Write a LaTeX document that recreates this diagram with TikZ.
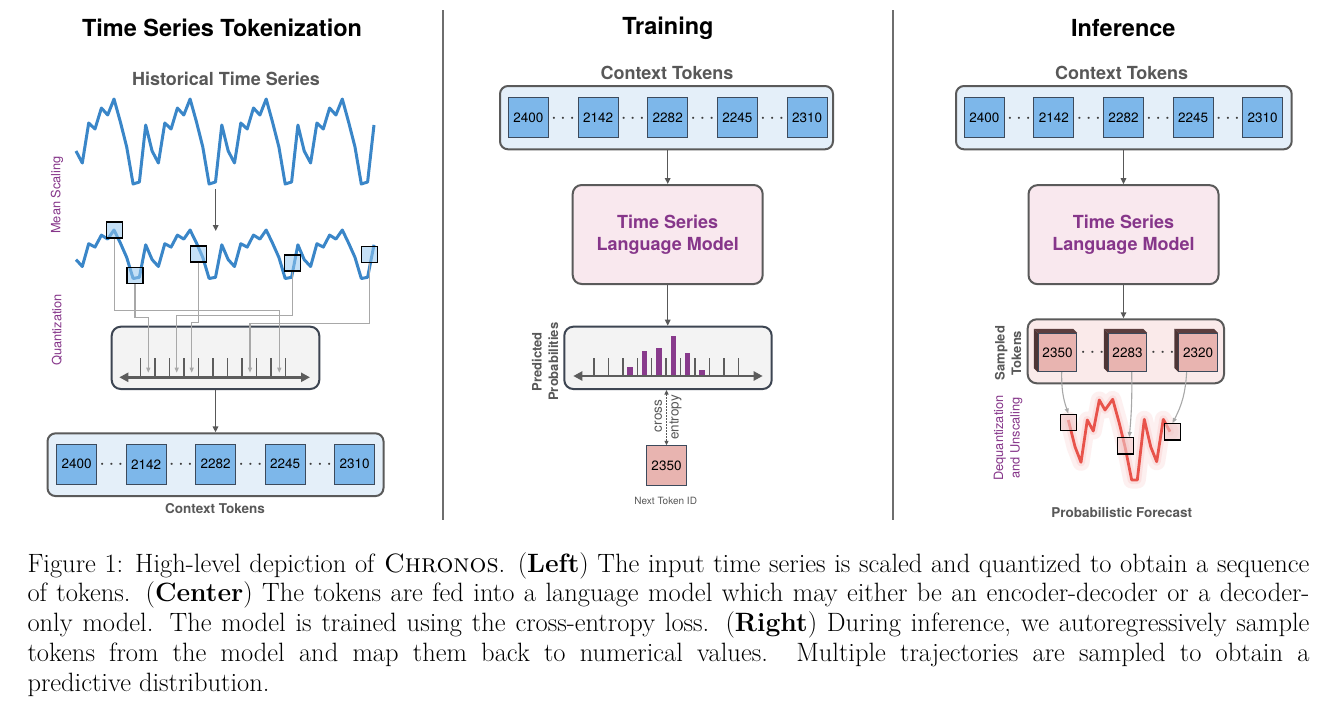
\documentclass[tikz,border=0pt]{standalone}
\usepackage{fontspec}
\newfontfamily\hv{TeX Gyre Heros}
\usetikzlibrary{arrows.meta,calc}
\definecolor{tsblue}{RGB}{58,134,200}
\definecolor{txtgray}{RGB}{88,88,88}
\definecolor{purp}{RGB}{134,54,138}
\definecolor{boxgray}{RGB}{90,90,90}
\definecolor{ctxfill}{RGB}{228,239,249}
\definecolor{tokblue}{RGB}{125,183,234}
\definecolor{tokborder}{RGB}{60,74,92}
\definecolor{tokpink}{RGB}{232,180,176}
\definecolor{lmfill}{RGB}{249,232,238}
\definecolor{sfill}{RGB}{250,234,234}
\definecolor{qfill}{RGB}{243,243,243}
\definecolor{qborder}{RGB}{61,69,82}
\definecolor{arrgray}{RGB}{88,88,88}
\definecolor{qgray}{RGB}{168,168,168}
\definecolor{axgray}{RGB}{92,92,92}
\definecolor{sqblue}{RGB}{150,200,240}
\definecolor{sqpink}{RGB}{240,200,200}
\definecolor{barpurp}{RGB}{136,58,140}
\definecolor{fred}{RGB}{232,83,75}
\definecolor{fband}{RGB}{248,190,188}
\definecolor{cubeside}{RGB}{92,62,62}
\definecolor{sepgray}{RGB}{110,110,110}
\definecolor{dotgray}{RGB}{60,60,60}
\begin{document}
\begin{tikzpicture}[x=1pt,y=-1pt,
  title/.style={font=\hv\bfseries\fontsize{23.5}{26}\selectfont, text=black, inner sep=0pt},
  subttl/.style={font=\hv\bfseries\fontsize{18}{21}\selectfont, text=txtgray, inner sep=0pt},
  lbl/.style={font=\hv\bfseries\fontsize{13.5}{16}\selectfont, text=txtgray, inner sep=0pt},
  side/.style={font=\hv\fontsize{12.8}{16}\selectfont, text=purp, rotate=90, align=center, inner sep=0pt},
  sidebold/.style={font=\hv\bfseries\fontsize{13}{16.5}\selectfont, text=txtgray, rotate=90, align=center, inner sep=0pt},
  ctxbox/.style={draw=boxgray, line width=2pt, fill=ctxfill, rounded corners=8pt, inner sep=0pt},
  tok/.style={draw=tokborder, line width=1pt, fill=tokblue, minimum size=40pt, inner sep=0pt, font=\hv\fontsize{13.5}{16}\selectfont},
  ptok/.style={tok, fill=tokpink},
  lmbox/.style={draw=boxgray, line width=2pt, fill=lmfill, rounded corners=9pt, minimum width=190pt, minimum height=99pt, inner sep=0pt, font=\hv\bfseries\fontsize{18}{22}\selectfont, text=purp, align=center},
  conn/.style={draw=arrgray, line width=1.4pt, -{Triangle[length=6pt,width=5.5pt]}},
  qarr/.style={draw=qgray, line width=1.1pt, -{Triangle[length=5pt,width=4pt]}},
  axisln/.style={draw=axgray, line width=2.6pt, {Triangle[length=9pt,width=9pt]}-{Triangle[length=9pt,width=9pt]}},
  tickln/.style={draw=axgray, line width=1.5pt},
  series/.style={draw=tsblue, line width=3pt, line join=round},
  sqb/.style={draw=black, line width=1.2pt, fill=sqblue, fill opacity=0.55, minimum size=16pt, inner sep=0pt},
  sqp/.style={draw=black, line width=1.2pt, fill=sqpink, fill opacity=0.6, minimum size=16.4pt, inner sep=0pt},
  dotsn/.style={font=\fontsize{21}{24}\selectfont, text=dotgray, inner sep=0pt},
  sep/.style={draw=sepgray, line width=1.3pt}
]
\useasboundingbox (0,0) rectangle (1334,718);
\fill[white] (0,0) rectangle (1334,718);

% separators
\coordinate (sepA1) at (443,10); \coordinate (sepA2) at (443,520);
\coordinate (sepB1) at (893,10); \coordinate (sepB2) at (893,520);
\draw[sep] (sepA1) -- (sepA2);
\draw[sep] (sepB1) -- (sepB2);

% ================= LEFT PANEL =================
\node[title] (ttl1) at (222,28) {Time Series Tokenization};
\node[subttl] (hist) at (226,79) {Historical Time Series};

\draw[series] plot coordinates {
(76,151)(82.3,163)(88.7,123)(95,129)(101.4,108)(107.7,115)(114,99)(120.4,122)(126.7,147)(133.1,184)(139.4,182)(145.7,125)
(152.1,151)(158.4,163)(164.8,123)(171.1,129)(177.4,108)(183.8,115)(190.1,99)(196.5,122)(202.8,147)(209.1,184)(215.5,182)(221.8,125)
(228.2,151)(234.5,163)(240.8,123)(247.2,129)(253.5,108)(259.9,115)(266.2,99)(272.5,122)(278.9,147)(285.2,184)(291.6,182)(297.9,125)
(304.2,151)(310.6,163)(316.9,123)(323.3,129)(329.6,108)(335.9,115)(342.3,99)(348.6,122)(355,147)(361.3,184)(367.6,182)(374,125)};

\coordinate (ms1) at (215.7,189);
\coordinate (ms2) at (215.7,231);
\draw[conn] (ms1) -- (ms2);

\draw[series] plot coordinates {
(76,259.6)(82.3,266.5)(88.7,243.7)(95,247.1)(101.4,235.1)(107.7,239.1)(114,230)(120.4,243.1)(126.7,257.4)(133.1,278.5)(139.4,277.3)(145.7,244.8)
(152.1,259.6)(158.4,266.5)(164.8,243.7)(171.1,247.1)(177.4,235.1)(183.8,239.1)(190.1,230)(196.5,243.1)(202.8,257.4)(209.1,278.5)(215.5,277.3)(221.8,244.8)
(228.2,259.6)(234.5,266.5)(240.8,243.7)(247.2,247.1)(253.5,235.1)(259.9,239.1)(266.2,230)(272.5,243.1)(278.9,257.4)(285.2,278.5)(291.6,277.3)(297.9,244.8)
(304.2,259.6)(310.6,266.5)(316.9,243.7)(323.3,247.1)(329.6,235.1)(335.9,239.1)(342.3,230)(348.6,243.1)(355,257.4)(361.3,278.5)(367.6,277.3)(374,244.8)};

\node[sqb] (s1) at (114.7,230) {};
\node[sqb] (s2) at (135,275.5) {};
\node[sqb] (s3) at (198.7,254) {};
\node[sqb] (s4) at (292.3,263) {};
\node[sqb] (s5) at (369.5,254.3) {};

\node[side] (msl) at (57,195) {Mean Scaling};
\node[side] (qzl) at (57,330) {Quantization};

% quantization box
\node[draw=qborder, line width=2pt, fill=qfill, rounded corners=9pt, minimum width=207.6pt, minimum height=62.3pt, inner sep=0pt] (qb) at (215.5,357.85) {};
\coordinate (qaL) at (119.3,377.3);
\coordinate (qaR) at (310,377.3);
\foreach \k in {0,...,10} {
  \draw[tickln] ({140.7+14.46*\k},358.3) -- ({140.7+14.46*\k},377.3);
}
\draw[axisln] (qaL) -- (qaR);

\coordinate (q1) at (279.3,372.7);
\coordinate (q2) at (148.3,372.7);
\coordinate (q3) at (191.7,372.7);
\coordinate (q4) at (176.7,372.7);
\coordinate (q5) at (250,372.7);
\draw[qarr] (s1.south) |- (279.3,310.7) -- (q1);
\draw[qarr] (s2.south) |- (148.3,317.3) -- (q2);
\draw[qarr] (s3.south) |- (191.7,322.7) -- (q3);
\draw[qarr] (s4.south) |- (176.7,315.5) -- (q4);
\draw[qarr] (s5.south) |- (250,323.7) -- (q5);

% context tokens (left)
\node[ctxbox, minimum width=336pt, minimum height=62.7pt] (cb1) at (215.5,464.7) {};
\draw[conn] (qb.south) -- (cb1.north);
\foreach \n/\v [count=\i from 0] in {1/2400,2/2142,3/2282,4/2245,5/2310} {
  \node[tok] (a\n) at ({76.7+69.5*\i},464.3) {\v};
}
\foreach \i in {0,...,3} {
  \node[dotsn] (ad\i) at ({111.45+69.5*\i},465) {$\cdots$};
}
\node[lbl] (ctl1) at (215,508.3) {Context Tokens};

% ================= CENTER PANEL =================
\node[title] (ttl2) at (668,28) {Training};
\node[subttl] (ct2) at (667,73) {Context Tokens};
\node[ctxbox, minimum width=333pt, minimum height=63.3pt] (cb2) at (666.5,117.65) {};
\foreach \n/\v [count=\i from 0] in {1/2400,2/2142,3/2282,4/2245,5/2310} {
  \node[tok] (b\n) at ({528.3+69.72*\i},117.7) {\v};
}
\foreach \i in {0,...,3} {
  \node[dotsn] (bd\i) at ({563.15+69.72*\i},118.4) {$\cdots$};
}
\node[lmbox] (lm2) at (667.7,234.5) {Time Series\\Language Model};
\draw[conn] (cb2.south -| lm2.north) -- (lm2.north);

\node[draw=qborder, line width=2pt, fill=qfill, rounded corners=9pt, minimum width=207.4pt, minimum height=62.3pt, inner sep=0pt] (hb) at (668,357.85) {};
\draw[conn] (lm2.south) -- (lm2.south |- hb.north);
\foreach \k in {0,...,10} {
  \draw[tickln] ({594+14.43*\k},358.3) -- ({594+14.43*\k},376);
}
\foreach \c/\t in {629.9/367.3, 644.35/351.3, 658.8/347.7, 673.2/336, 687.65/352.7, 702.1/370} {
  \fill[barpurp] ({\c-2.7},\t) rectangle ({\c+2.7},376);
}
\coordinate (haL) at (573.3,376);
\coordinate (haR) at (762.7,376);
\draw[axisln] (haL) -- (haR);

\node[sidebold] (pp) at (545,361.7) {Predicted\\Probabilities};

\node[ptok] (nt) at (666.5,465.85) {2350};
\draw[draw=arrgray, line width=1.1pt, dash pattern=on 1.5pt off 1.5pt, {Triangle[length=4.5pt,width=4pt]}-{Triangle[length=4.5pt,width=4pt]}] (nt.north |- hb.south) -- (nt.north);
\node[font=\hv\fontsize{13.5}{16}\selectfont, text=txtgray, rotate=90, inner sep=0pt] (cr) at (658.3,416) {cross};
\node[font=\hv\fontsize{13.5}{16}\selectfont, text=txtgray, rotate=90, inner sep=0pt] (en) at (675.5,417.5) {entropy};
\node[font=\hv\fontsize{10}{12}\selectfont, text=txtgray, inner sep=0pt] (nti) at (665.7,500.7) {Next Token ID};

% ================= RIGHT PANEL =================
\node[title] (ttl3) at (1123.3,28) {Inference};
\node[subttl] (ct3) at (1121.7,73) {Context Tokens};
\node[ctxbox, minimum width=335.7pt, minimum height=63.3pt] (cb3) at (1123.85,117.65) {};
\foreach \n/\v [count=\i from 0] in {1/2400,2/2142,3/2282,4/2245,5/2310} {
  \node[tok] (c\n) at ({984.3+69.6*\i},117.7) {\v};
}
\foreach \i in {0,...,3} {
  \node[dotsn] (cd\i) at ({1019.1+69.6*\i},118.4) {$\cdots$};
}
\node[lmbox] (lm3) at (1123.5,234.65) {Time Series\\Language Model};
\draw[conn] (cb3.south -| lm3.north) -- (lm3.north);

\node[draw=boxgray, line width=2pt, fill=sfill, rounded corners=9pt, minimum width=196.3pt, minimum height=64pt, inner sep=0pt] (sb) at (1125.85,351.3) {};
\draw[conn] (lm3.south) -- (lm3.south |- sb.north);

\foreach \n/\x/\v in {1/1057.5/2350, 2/1127.5/2283, 3/1198.15/2320} {
  \node[ptok, minimum size=38.4pt] (st\n) at (\x,352.5) {\v};
  \fill[cubeside] (st\n.north west) -- ++(-4,-4) -- ([shift={(-4,-4)}]st\n.north east) -- (st\n.north east) -- cycle;
  \fill[cubeside!85!black] (st\n.north west) -- ++(-4,-4) -- ([shift={(-4,-4)}]st\n.south west) -- (st\n.south west) -- cycle;
}
\node[dotsn] (sd1) at (1092.5,353.2) {$\cdots$};
\node[dotsn] (sd2) at (1162.8,353.2) {$\cdots$};
\node[sidebold] (stl) at (1008,353) {Sampled\\Tokens};

% forecast
\def\fc{(1068.3,420)(1075,446.7)(1081,462.3)(1087.3,420)(1093.3,431)(1099.3,400)(1105,410)(1112.7,399.3)(1119.3,423.3)(1125,446.7)(1131.7,480)(1137.3,480)(1144.3,419.3)(1150.7,446.7)(1156.7,461.7)(1163.3,419.3)(1170,431.7)}
\draw[draw=fband, draw opacity=0.22, line width=17pt, line join=round, line cap=round] plot coordinates {\fc};
\draw[draw=fband, draw opacity=0.3, line width=8pt, line join=round, line cap=round] plot coordinates {\fc};
\draw[draw=fred, line width=2.8pt, line join=round] plot coordinates {\fc};

\node[sqp] (fs1) at (1068.3,422.3) {};
\node[sqp] (fs2) at (1125.5,445.85) {};
\node[sqp] (fs3) at (1172.5,431.85) {};

\draw[qarr] ([xshift=4.2pt]st1.south) to[bend right=10] (fs1.north);
\draw[qarr] ([xshift=4.2pt]st2.south) to[bend left=3] ([xshift=3.8pt]fs2.north);
\draw[qarr] ([xshift=-11.5pt]st3.south) to[bend left=12] (fs3.north);

\node[side, font=\hv\fontsize{12.8}{16.5}\selectfont] (dq) at (1008,438) {Dequantization\\and Unscaling};
\node[lbl] (pf) at (1121.7,512.7) {Probabilistic Forecast};

% ================= CAPTION =================
\node[anchor=base west, text width=1282pt, inner sep=0pt, align=justify, font=\fontsize{26.5}{29.9}\selectfont] (cap) at (27.3,572) {\hyphenpenalty 10000 \emergencystretch 20pt Figure 1: High-level depiction of \textsc{Chronos}. (\textbf{Left}) The input time series is scaled and quantized to obtain a sequence\linebreak of tokens. (\textbf{Center}) The tokens are fed into a language model which may either be an encoder-decoder or a decoder-\linebreak only model. The model is trained using the cross-entropy loss. (\textbf{Right}) During inference, we autoregressively sample\linebreak tokens from the model and map them back to numerical values.\ \ Multiple trajectories are sampled to obtain a\linebreak predictive distribution.};
\end{tikzpicture}
\end{document}
